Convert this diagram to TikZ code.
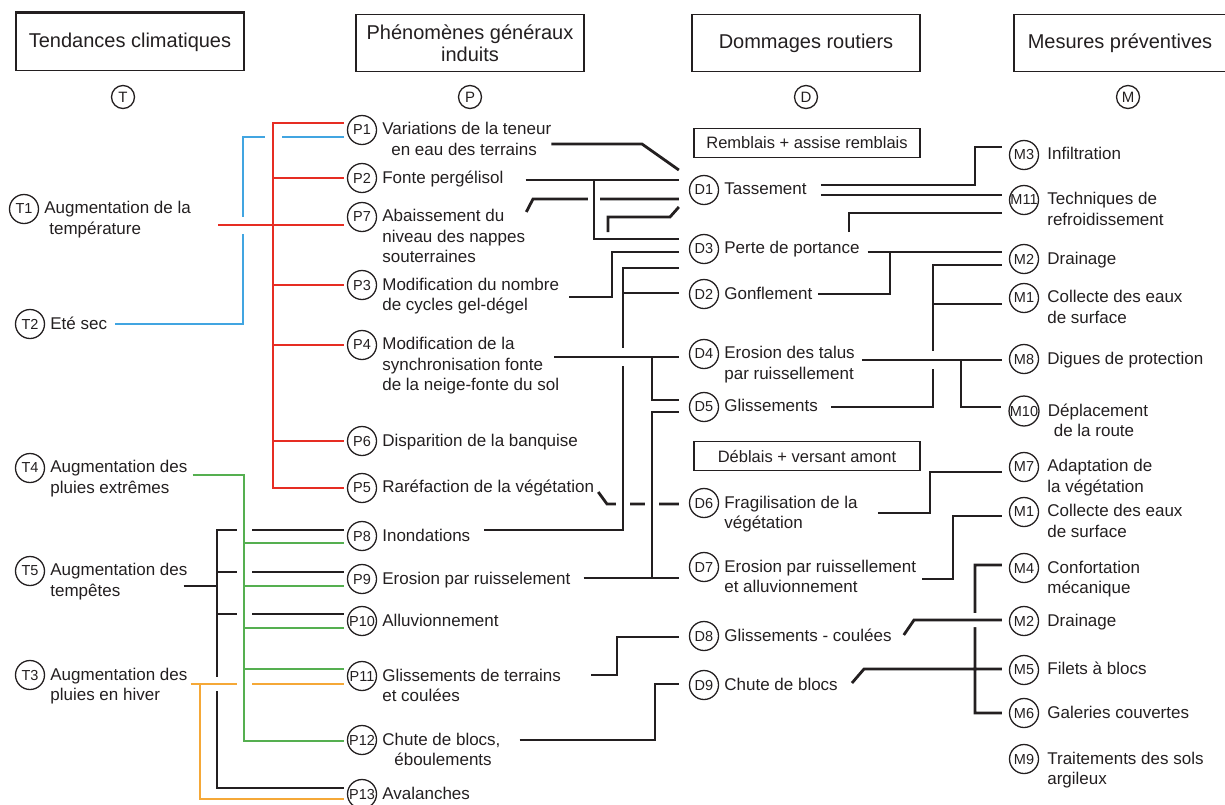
\documentclass[tikz,border=0pt]{standalone}
\usepackage{fontspec}
\setmainfont{Liberation Sans}
\usetikzlibrary{positioning,calc,backgrounds}
\definecolor{ink}{RGB}{35,31,32}
\definecolor{tred}{RGB}{230,45,35}
\definecolor{tblue}{RGB}{65,165,225}
\definecolor{tgreen}{RGB}{85,175,80}
\definecolor{torange}{RGB}{245,168,55}
% first line of a multi-line label carries the baseline
\newcommand{\txtlines}[1]{\begin{tabular}[t]{@{}l@{}}#1\end{tabular}}
\tikzset{%
	tag/.style={circle, draw=ink, line width=1.3pt, inner sep=0pt, minimum size=29pt, text=ink, font=\fontsize{14.5}{14.5}\selectfont},
	letter/.style={circle, draw=ink, line width=1.3pt, inner sep=0pt, minimum size=23pt, text=ink, font=\fontsize{15}{15}\selectfont},
	txt/.style={inner sep=0pt, text=ink, font=\fontsize{17}{20.5}\selectfont},
	head/.style={draw=ink, line width=1.4pt, minimum width=228pt, minimum height=57pt, align=center, text=ink, font=\fontsize{20}{22}\selectfont},
	zone/.style={draw=ink, line width=1.4pt, minimum width=226pt, minimum height=29pt, text=ink, font=\fontsize{16.5}{17}\selectfont},
	wire/.style={draw=ink, line width=2.8pt},
	redw/.style={draw=tred, line width=2.4pt},
	bluew/.style={draw=tblue, line width=2.4pt},
	greenw/.style={draw=tgreen, line width=2.4pt},
	orangew/.style={draw=torange, line width=2.4pt},
	hop/.style={preaction={draw=white, line width=#1}},
	hop/.default=14pt
}

\begin{document}
\begin{tikzpicture}[x=1pt, y=-1pt]
	\useasboundingbox (0,0) rectangle (1225,804);

	% column headers
	\node[head] (hT) at (130,42) {Tendances climatiques};
	\node[head] (hP) at (470,43) {Phénomènes généraux\\induits};
	\node[head] (hD) at (806,43) {Dommages routiers};
	\node[head, minimum width=212pt] (hM) at (1120,43) {Mesures préventives};
	\draw[ink, line width=3pt] (hT.north west) -- (hT.north east);
	\node[letter] (cT) at (123,97) {T};
	\node[letter] (cP) at (470,97) {P};
	\node[letter] (cD) at (806,97) {D};
	\node[letter] (cM) at (1128,97) {M};
	\node[zone] (fill) at (807,143) {Remblais + assise remblais};
	\node[zone] (cut) at (807,456) {Déblais + versant amont};

	% tendances
	\node[tag] (T1) at (24,209) {T1};
	\node[txt, right=5pt of T1.base east, anchor=base west] (T1t) {\txtlines{Augmentation de la\\\hspace*{5pt}température}};
	\node[tag] (T2) at (30,324) {T2};
	\node[txt, right=5pt of T2.base east, anchor=base west] (T2t) {Eté sec};
	\node[tag] (T4) at (30,468) {T4};
	\node[txt, right=5pt of T4.base east, anchor=base west] (T4t) {\txtlines{Augmentation des\\pluies extrêmes}};
	\node[tag] (T5) at (30,571) {T5};
	\node[txt, right=5pt of T5.base east, anchor=base west] (T5t) {\txtlines{Augmentation des\\tempêtes}};
	\node[tag] (T3) at (30,675) {T3};
	\node[txt, right=5pt of T3.base east, anchor=base west] (T3t) {\txtlines{Augmentation des\\pluies en hiver}};

	% phenomenes
	\node[tag] (P1) at (362,130) {P1};
	\node[txt, right=5pt of P1.base east, anchor=base west] (P1t) {\txtlines{Variations de la teneur\\\hspace*{9pt}en eau des terrains}};
	\node[tag] (P2) at (362,178) {P2};
	\node[txt, right=5pt of P2.base east, anchor=base west] (P2t) {Fonte pergélisol};
	\node[tag] (P7) at (362,217) {P7};
	\node[txt, right=5pt of P7.base east, anchor=base west] (P7t) {\txtlines{Abaissement du\\niveau des nappes\\souterraines}};
	\node[tag] (P3) at (362,285) {P3};
	\node[txt, right=5pt of P3.base east, anchor=base west] (P3t) {\txtlines{Modification du nombre\\de cycles gel-dégel}};
	\node[tag] (P4) at (362,345) {P4};
	\node[txt, right=5pt of P4.base east, anchor=base west] (P4t) {\txtlines{Modification de la\\synchronisation fonte\\de la neige-fonte du sol}};
	\node[tag] (P6) at (362,441) {P6};
	\node[txt, right=5pt of P6.base east, anchor=base west] (P6t) {Disparition de la banquise};
	\node[tag] (P5) at (362,488) {P5};
	\node[txt, right=5pt of P5.base east, anchor=base west] (P5t) {Raréfaction de la végétation};
	\node[tag] (P8) at (362,536) {P8};
	\node[txt, right=5pt of P8.base east, anchor=base west] (P8t) {Inondations};
	\node[tag] (P9) at (362,579) {P9};
	\node[txt, right=5pt of P9.base east, anchor=base west] (P9t) {Erosion par ruisselement};
	\node[tag] (P10) at (362,621) {P10};
	\node[txt, right=5pt of P10.base east, anchor=base west] (P10t) {Alluvionnement};
	\node[tag] (P11) at (362,676) {P11};
	\node[txt, right=5pt of P11.base east, anchor=base west] (P11t) {\txtlines{Glissements de terrains\\et coulées}};
	\node[tag] (P12) at (362,740) {P12};
	\node[txt, right=5pt of P12.base east, anchor=base west] (P12t) {\txtlines{Chute de blocs,\\\hspace*{12pt}éboulements}};
	\node[tag] (P13) at (362,794) {P13};
	\node[txt, right=5pt of P13.base east, anchor=base west] (P13t) {Avalanches};

	% dommages
	\node[tag] (D1) at (704,190) {D1};
	\node[txt, right=5pt of D1.base east, anchor=base west] (D1t) {Tassement};
	\node[tag] (D3) at (704,249) {D3};
	\node[txt, right=5pt of D3.base east, anchor=base west] (D3t) {Perte de portance};
	\node[tag] (D2) at (704,294) {D2};
	\node[txt, right=5pt of D2.base east, anchor=base west] (D2t) {Gonflement};
	\node[tag] (D4) at (704,354) {D4};
	\node[txt, right=5pt of D4.base east, anchor=base west] (D4t) {\txtlines{Erosion des talus\\par ruissellement}};
	\node[tag] (D5) at (704,407) {D5};
	\node[txt, right=5pt of D5.base east, anchor=base west] (D5t) {Glissements};
	\node[tag] (D6) at (704,503) {D6};
	\node[txt, right=5pt of D6.base east, anchor=base west] (D6t) {\txtlines{Fragilisation de la\\végétation}};
	\node[tag] (D7) at (704,567) {D7};
	\node[txt, right=5pt of D7.base east, anchor=base west] (D7t) {\txtlines{Erosion par ruissellement\\et alluvionnement}};
	\node[tag] (D8) at (704,636) {D8};
	\node[txt, right=5pt of D8.base east, anchor=base west] (D8t) {Glissements - coulées};
	\node[tag] (D9) at (704,685) {D9};
	\node[txt, right=5pt of D9.base east, anchor=base west] (D9t) {Chute de blocs};

	% mesures
	\node[tag] (M3) at (1024,155) {M3};
	\node[txt, right=8pt of M3.base east, anchor=base west] (M3t) {Infiltration};
	\node[tag] (M11) at (1024,200) {M11};
	\node[txt, right=8pt of M11.base east, anchor=base west] (M11t) {\txtlines{Techniques de\\refroidissement}};
	\node[tag] (M2) at (1024,259) {M2};
	\node[txt, right=8pt of M2.base east, anchor=base west] (M2t) {Drainage};
	\node[tag] (M1) at (1024,298) {M1};
	\node[txt, right=8pt of M1.base east, anchor=base west] (M1t) {\txtlines{Collecte des eaux\\de surface}};
	\node[tag] (M8) at (1024,359) {M8};
	\node[txt, right=8pt of M8.base east, anchor=base west] (M8t) {Digues de protection};
	\node[tag] (M10) at (1024,411) {M10};
	\node[txt, right=8pt of M10.base east, anchor=base west] (M10t) {\txtlines{Déplacement\\\hspace*{6pt}de la route}};
	\node[tag] (M7) at (1024,467) {M7};
	\node[txt, right=8pt of M7.base east, anchor=base west] (M7t) {\txtlines{Adaptation de\\la végétation}};
	\node[tag] (M1b) at (1024,512) {M1};
	\node[txt, right=8pt of M1b.base east, anchor=base west] (M1bt) {\txtlines{Collecte des eaux\\de surface}};
	\node[tag] (M4) at (1024,568) {M4};
	\node[txt, right=8pt of M4.base east, anchor=base west] (M4t) {\txtlines{Confortation\\mécanique}};
	\node[tag] (M2b) at (1024,621) {M2};
	\node[txt, right=8pt of M2b.base east, anchor=base west] (M2bt) {Drainage};
	\node[tag] (M5) at (1024,670) {M5};
	\node[txt, right=8pt of M5.base east, anchor=base west] (M5t) {Filets à blocs};
	\node[tag] (M6) at (1024,713) {M6};
	\node[txt, right=8pt of M6.base east, anchor=base west] (M6t) {Galeries couvertes};
	\node[tag] (M9) at (1024,759) {M9};
	\node[txt, right=8pt of M9.base east, anchor=base west] (M9t) {\txtlines{Traitements des sols\\argileux}};

	\coordinate (s1) at (608,232);
	\coordinate (s2) at (849,232);

	\begin{scope}[on background layer]
	% T -> P
	\draw[bluew] ($(T2t.east |- T2)+(8,0)$) -| (243,137) -- ($(P1.west)+(-3,7)$);
	\draw[redw, hop=17pt] ($(P1.west)+(-3,-7)$) -| (273,488) -- ($(P5.west)+(-3,0)$)
		($(P2.west)+(-3,0)$) -- (P2.west -| 273,0)
		($(P3.west)+(-3,0)$) -- (P3.west -| 273,0)
		($(P4.west)+(-3,0)$) -- (P4.west -| 273,0)
		($(P6.west)+(-3,0)$) -- (P6.west -| 273,0)
		($(T1t.north east |- T1)+(27,16)$) -- ($(P7.west)+(-3,8)$);
	\draw[wire] ($(T5t.north east |- T5)+(-4,15)$) -- (217,586)
		($(P8.west)+(-3,-6)$) -| (217,788) -- ($(P13.west)+(-3,-6)$)
		($(P9.west)+(-3,-7)$) -- (217,572)
		($(P10.west)+(-3,-7)$) -- (217,614);
	\draw[orangew, hop=14pt] ($(T3t.north east |- T3)+(3,9)$) -- ($(P11.west)+(-3,8)$)
		(200,684) |- ($(P13.west)+(-3,5)$);
	\draw[greenw, hop=15pt] ($(T4t.north east |- T4)+(5,7)$) -| (244,741) -- ($(P12.west)+(-3,1)$)
		(244,543) -- ($(P8.west)+(-3,7)$)
		(244,586) -- ($(P9.west)+(-3,7)$)
		(244,628) -- ($(P10.west)+(-3,7)$)
		(244,669) -- ($(P11.west)+(-3,-7)$);

	% P -> D
	\draw[wire] ($(P1t.north east |- P1)+(0,14)$) -- (642,144) -- ($(D1.west)+(-10,-20)$);
	\draw[wire] ($(P7t.north east |- P7)+(1,-5)$) -- (533,199) -- ($(D1.west)+(-10,9)$);
	\draw[wire] (s1) |- (670,217) -- ($(D1.west)+(-10,17)$);
	\draw[wire, hop=12pt] ($(P2t.east |- P2)+(22,2)$) -- ($(D1.west)+(-10,-10)$)
		(594,180) |- ($(D3.west)+(-10,-10)$);
	\draw[wire] ($(P3t.north east |- P3)+(10,12)$) -| (612,252) -- ($(D3.west)+(-10,3)$);
	\draw[wire] ($(P5t.east |- P5)+(4,4)$) -- (607,504) -- ($(D6.west)+(-10,1)$);
	\draw[wire, hop=14pt] ($(P8t.east |- P8)+(14,-6)$) -| (623,268) -- ($(D3.west)+(-10,19)$)
		(623,293) -- ($(D2.west)+(-10,-1)$);
	\draw[wire, hop=18pt] ($(P4t.north east |- P4)+(-5,12)$) -- ($(D4.west)+(-10,3)$)
		(652,357) |- ($(D5.west)+(-10,-7)$);
	\draw[wire, hop=14pt] ($(P9t.east |- P9)+(13,-1)$) -- ($(D7.west)+(-10,11)$)
		(652,578) |- ($(D5.west)+(-10,5)$);
	\draw[wire] ($(P11t.north east |- P11)+(30,-1)$) -| (617,637) -- ($(D8.west)+(-10,1)$);
	\draw[wire] ($(P12t.north east |- P12)+(19,0)$) -| (655,684) -- ($(D9.west)+(-10,-1)$);

	% D -> M
	\draw[wire] ($(D1t.east |- D1)+(14,-5)$) -| (975,147) -- ($(M3.west)+(-7,-8)$);
	\draw[wire] ($(D1t.east |- D1)+(14,5)$) -- ($(M11.west)+(-7,-5)$);
	\draw[wire] (s2) |- ($(M11.west)+(-7,13)$);
	\draw[wire] ($(D3t.east |- D3)+(8,3)$) -- ($(M2.west)+(-7,-7)$);
	\draw[wire] ($(D2t.east |- D2)+(6,0)$) -| (890,252);
	\draw[wire] ($(D5t.east |- D5)+(13,0)$) -| (933,265) -- ($(M2.west)+(-7,6)$)
		(933,304) -- ($(M1.west)+(-7,6)$);
	\draw[wire, hop=18pt] ($(D4t.north east |- D4)+(7,6)$) -- ($(M8.west)+(-7,1)$)
		(961,360) |- ($(M10.west)+(-7,-4)$);
	\draw[wire] ($(D6t.north east |- D6)+(20,10)$) -| (930,472) -- ($(M7.west)+(-7,5)$);
	\draw[wire] ($(D7t.north east |- D7)+(6,12)$) -| (953,516) -- ($(M1b.west)+(-7,4)$);
	\draw[wire] ($(D9t.east |- D9)+(14,-2)$) -- (864,669) -- ($(M5.west)+(-7,-1)$)
		($(M4.west)+(-7,-3)$) -| (975,713) -- ($(M6.west)+(-7,0)$);
	\draw[wire, hop=14pt] ($(D8t.east |- D8)+(12,-1)$) -- (914,620) -- ($(M2b.west)+(-7,-1)$);
	\end{scope}
\end{tikzpicture}
\end{document}
